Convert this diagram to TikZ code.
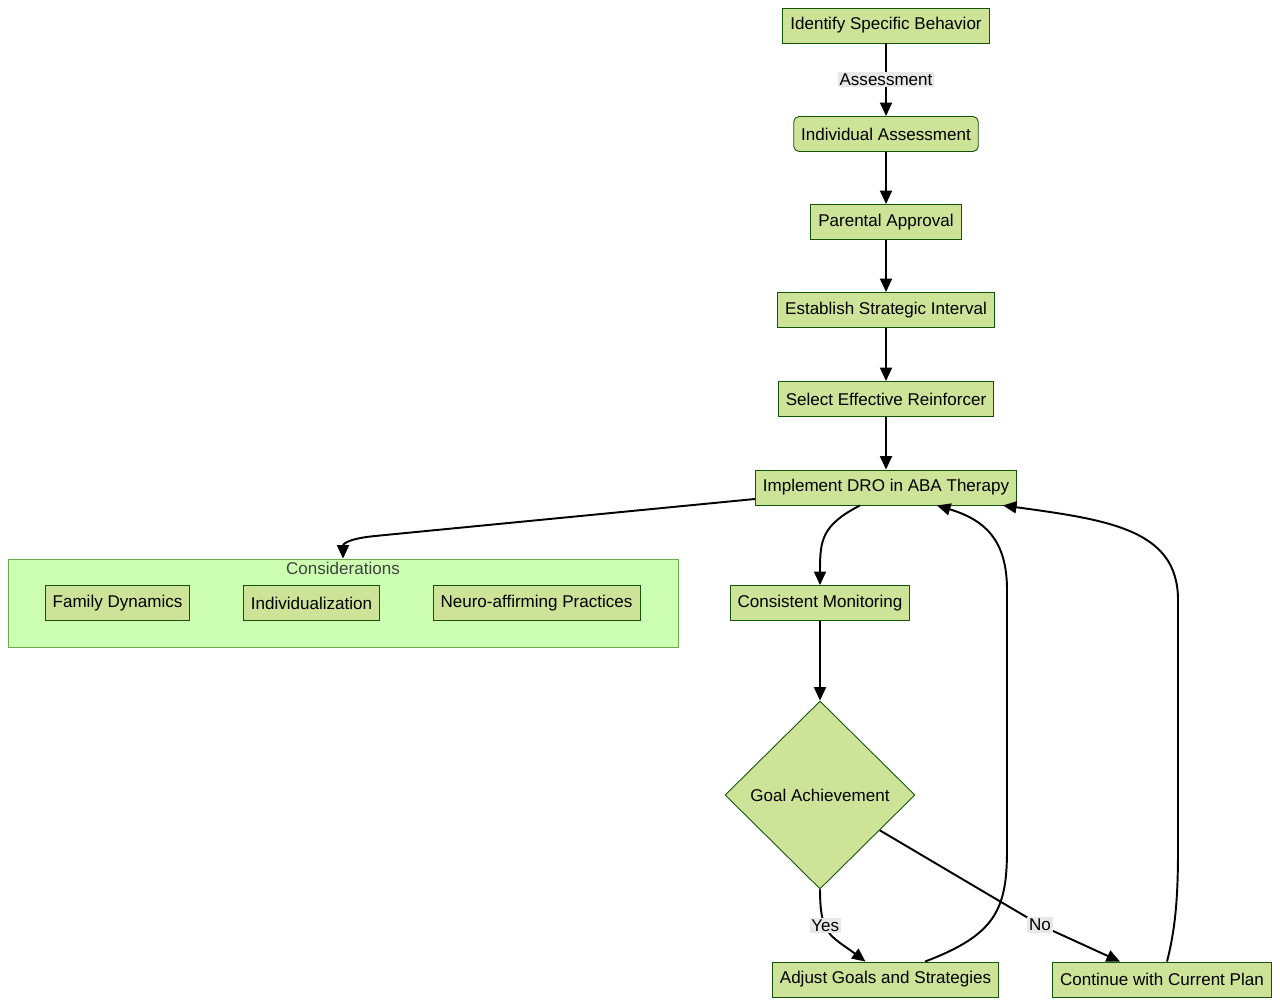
\documentclass[tikz,border=0pt]{standalone}
\usepackage{fontspec}
\setmainfont{Liberation Sans}
\usepackage{tikz}
\usetikzlibrary{arrows.meta,shapes.geometric}
\definecolor{boxfill}{HTML}{CDE498}
\definecolor{boxline}{HTML}{13540C}
\definecolor{clfill}{HTML}{CDFFB2}
\definecolor{clline}{HTML}{6EAA49}
\definecolor{lblbg}{HTML}{E8E8E8}

\begin{document}
\begin{tikzpicture}[x=0.02cm,y=-0.02cm,
    font=\fontsize{9.7}{11.6}\selectfont,
    box/.style={draw=boxline,fill=boxfill,line width=0.5pt,inner xsep=0.15cm,minimum height=0.7cm},
    rbox/.style={box,rounded corners=3pt},
    choice/.style={diamond,draw=boxline,fill=boxfill,line width=0.5pt,minimum width=3.8cm,minimum height=3.76cm,inner sep=0pt},
    elabel/.style={fill=lblbg,inner sep=1pt},
    flow/.style={-{Triangle[length=0.27cm,width=0.24cm]},line width=1.1pt}]
    \useasboundingbox (0,0) rectangle (1280,1006);
    % considerations cluster
    \node[draw=clline,fill=clfill,line width=0.5pt,minimum width=13.4cm,minimum height=1.76cm] (cons) at (343,603) {};
    \node[text=black!75] (conslbl) at (343,568) {Considerations};
    \node[box] (family) at (117.5,603) {Family Dynamics};
    \node[box] (indiv) at (311.5,603) {Individualization};
    \node[box] (neuro) at (536.5,603) {Neuro-affirming Practices};
    % main flow
    \node[box] (ident) at (886,25.5) {Identify Specific Behavior};
    \node[rbox] (assess) at (886,134) {Individual Assessment};
    \node[box] (parent) at (886,222) {Parental Approval};
    \node[box] (interval) at (886,310) {Establish Strategic Interval};
    \node[box] (reinf) at (886,399) {Select Effective Reinforcer};
    \node[box] (impl) at (886,487.5) {Implement DRO in ABA Therapy};
    \node[box] (mon) at (820,603) {Consistent Monitoring};
    \node[choice] (goal) at (820,795) {Goal Achievement};
    \node[box] (adj) at (885.5,979.5) {Adjust Goals and Strategies};
    \node[box] (cont) at (1162,979.5) {Continue with Current Plan};

    \draw[flow] (ident) -- node[elabel] {Assessment} (assess);
    \draw[flow] (assess) -- (parent);
    \draw[flow] (parent) -- (interval);
    \draw[flow] (interval) -- (reinf);
    \draw[flow] (reinf) -- (impl);
    \draw[flow] ([yshift=-0.23cm]impl.west) -- (375,536) .. controls (345,539) and (343,545) .. (cons.north);
    \draw[flow] ([xshift=-0.52cm]impl.south) .. controls (822,525) and (820,540) .. (820,570) -- (mon.north);
    \draw[flow] (goal.south) .. controls (820,935) and (830,935) .. node[elabel,pos=0.38] {Yes} ([xshift=-0.4cm]adj.north);
    \draw[flow] (goal) -- (1040,925) node[elabel] {No} -- ([xshift=-0.84cm]cont.north);
    \draw[flow] (mon) -- (goal);
    \draw[flow] ([xshift=0.79cm]adj.north) .. controls (995,935) and (1007,910) .. (1007,850) -- (1007,590) .. controls (1007,540) and (985,520) .. ([xshift=1.02cm]impl.south);
    \draw[flow] ([xshift=0.1cm]cont.north) .. controls (1175,930) and (1178,900) .. (1178,850) -- (1178,600) .. controls (1178,530) and (1110,520) .. ([xshift=2.34cm]impl.south);
\end{tikzpicture}
\end{document}
